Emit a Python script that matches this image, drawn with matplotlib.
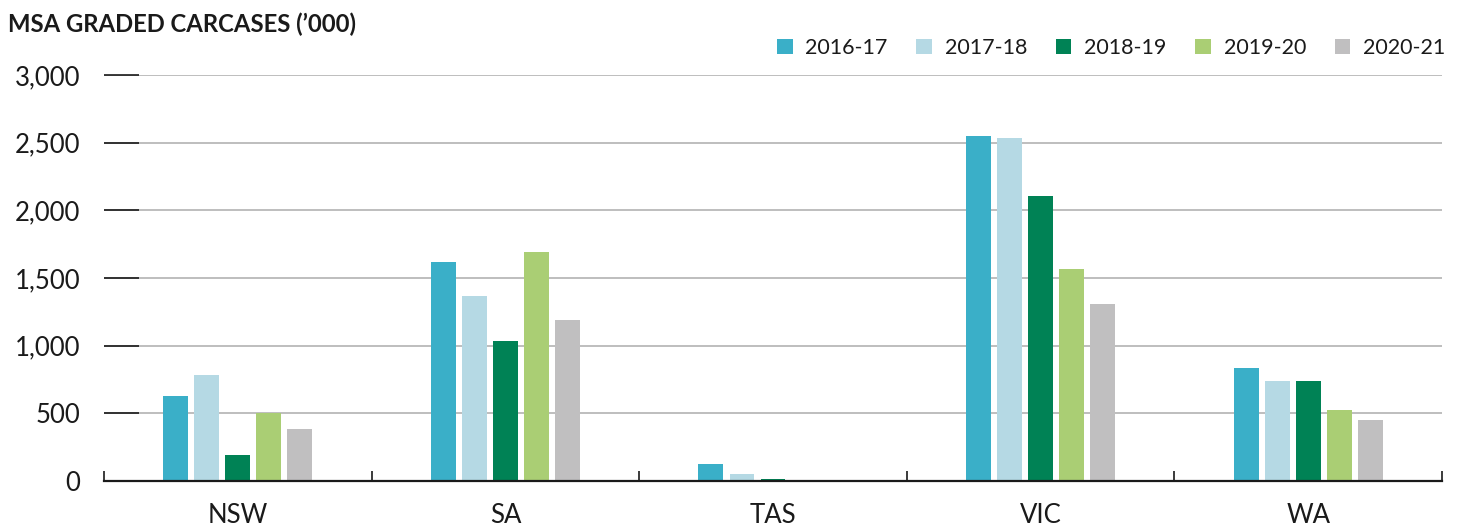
import numpy as np
import matplotlib
matplotlib.use("Agg")
import matplotlib.pyplot as plt
from matplotlib.patches import Patch
from matplotlib.ticker import FuncFormatter

# MSA graded carcases ('000) by state and year
states = ["NSW", "SA", "TAS", "VIC", "WA"]
years = ["2016-17", "2017-18", "2018-19", "2019-20", "2020-21"]
v_2016_17 = [625, 1620, 128, 2550, 835]
v_2017_18 = [785, 1370, 54, 2535, 740]
v_2018_19 = [193, 1037, 15, 2106, 740]
v_2019_20 = [504, 1689, 0, 1567, 525]
v_2020_21 = [385, 1193, 0, 1308, 451]
series = [v_2016_17, v_2017_18, v_2018_19, v_2019_20, v_2020_21]
y_ticks = [0, 500, 1000, 1500, 2000, 2500, 3000]

COLORS = ["#3AAFC8", "#B5D9E4", "#008255", "#AACE74", "#C0BFC0"]
GRID = "#B3B3B3"
INK = "#1A1A1A"

plt.rcParams["font.family"] = ["Lato", "DejaVu Sans"]

fig = plt.figure(figsize=(14.66, 5.26), dpi=100)
ax = fig.add_axes([104 / 1466, 45 / 526, 1338 / 1466, 406 / 526])

x = np.arange(len(states))
step = 0.116
width = 0.093
for i, (vals, col) in enumerate(zip(series, COLORS)):
    ax.bar(x + (i - 2) * step, vals, width=width, color=col, zorder=3)

ax.set_xlim(-0.5, len(states) - 0.5)
ax.set_ylim(0, 3000)

# gridlines + black stub ticks (tick lengths are in points: px * 0.72)
ax.set_yticks(y_ticks)
ax.yaxis.set_major_formatter(FuncFormatter(lambda v, _: f"{int(v):,}"))
ax.grid(axis="y", color=GRID, linewidth=1.2, zorder=0)
ax.tick_params(axis="y", direction="in", length=25, width=1.2, color=INK,
               labelsize=18.5, labelcolor=INK, pad=17)

ax.set_xticks(x)
ax.set_xticklabels(states)
ax.set_xticks(np.arange(len(states) + 1) - 0.5, minor=True)
ax.tick_params(axis="x", which="major", length=0, labelsize=18.5,
               labelcolor=INK, pad=16)
ax.tick_params(axis="x", which="minor", direction="in", length=7.5,
               width=1.2, color=INK)

for s in ["top", "right", "left"]:
    ax.spines[s].set_visible(False)
ax.spines["bottom"].set_color(INK)
ax.spines["bottom"].set_linewidth(1.6)
ax.spines["bottom"].set_zorder(4)

fig.text(8 / 1466, 1 - 24 / 526, "MSA GRADED CARCASES (\u2019000)",
         fontsize=17.2, fontweight="bold", color=INK, va="center", ha="left")

handles = [Patch(facecolor=c, edgecolor="none") for c in COLORS]
fig.legend(handles, years, loc="center right",
           bbox_to_anchor=(1454 / 1466, 1 - 48 / 526), ncol=5, frameon=False,
           fontsize=15.5, handlelength=0.72, handleheight=0.72,
           handletextpad=0.6, columnspacing=1.33, borderaxespad=0,
           labelcolor=INK)

fig.savefig("out.png", dpi=100)
